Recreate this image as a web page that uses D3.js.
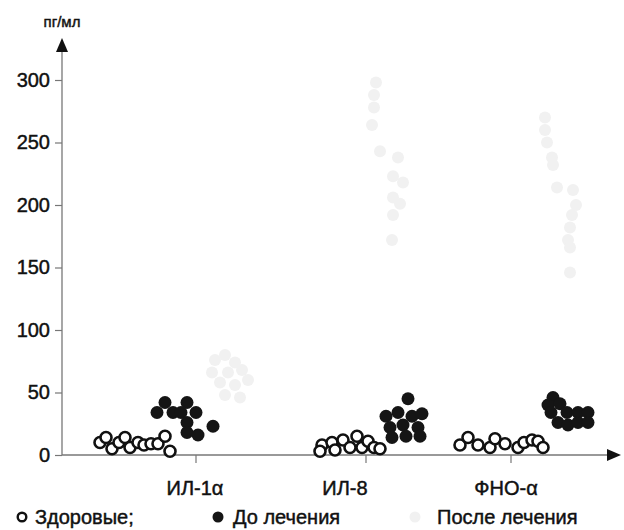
<!DOCTYPE html>
<html>
<head>
<meta charset="utf-8">
<script src="https://cdn.jsdelivr.net/npm/d3@7"></script>
<style>
  body { margin: 0; background: #fff; }
  text { font-family: "Liberation Sans", Arial, sans-serif; fill: #111; stroke: #111; stroke-width: 0.45px; }
</style>
</head>
<body>
<script>
// chart size
var w = 624;
var h = 530;

// categories and where they sit on the x scale
var categories = ["ИЛ-1α", "ИЛ-8", "ФНО-α"];
var categoryTicks = [26.8, 60.8, 89.8];
var labelPos = [26.6, 56.6, 88.8];

var yTicks = [0, 50, 100, 150, 200, 250, 300];
var yTitle = "пг/мл";

// [x position, value pg/ml]
var healthy = [
  [7.6, 10], [8.8, 14], [10, 5], [11.4, 10], [12.6, 14], [13.6, 6],
  [15.2, 10], [16.4, 8], [17.8, 9], [19.2, 9], [20.6, 15], [21.6, 3],
  [52, 8], [51.6, 3], [54, 10], [54.6, 4], [56.2, 12], [57.6, 6],
  [59, 15], [60, 6], [61.2, 11], [62.4, 6], [63.6, 5],
  [79.6, 8], [81.2, 14], [83.2, 8], [85.6, 6], [86.6, 13], [88.6, 9],
  [91.2, 6], [92.4, 10], [94, 12], [95.2, 11], [96.2, 6]
];

var before = [
  [19, 34], [20.6, 42], [22.2, 34], [25, 42], [23.8, 34], [26.8, 34],
  [25, 26], [25, 18], [27.2, 16], [30.2, 23],
  [69.2, 45], [64.8, 31], [67.2, 34], [70, 31], [72, 33], [65.6, 22],
  [68.2, 24], [71.2, 22], [66, 14], [68.8, 15], [71.6, 15],
  [98.2, 46], [97.2, 40], [99.6, 41], [97.8, 34], [101, 34], [103.2, 34],
  [105.2, 34], [99.2, 26], [101.2, 24], [103.2, 26], [105.2, 26]
];

var after = [
  [30.6, 76], [32.6, 80], [34.6, 74], [30, 66], [33.2, 66], [36, 68],
  [31.6, 58], [34.6, 56], [37.2, 60], [32.6, 48], [35.6, 46],
  [62.8, 298], [62.4, 288], [62.4, 278], [62, 264], [63.6, 243], [67.2, 238],
  [66.2, 223], [68.2, 218], [66.2, 206], [67.6, 201], [66.2, 192], [66, 172],
  [96.6, 270], [96.6, 260], [97, 250], [98, 238], [98.2, 232], [99, 214],
  [102.2, 212], [102.8, 200], [102, 192], [101.6, 182], [101.2, 172],
  [101.6, 166], [101.6, 146]
];

var legendLabels = ["Здоровые;", "До лечения", "После лечения"];

var svg = d3.select("body")
  .append("svg")
  .attr("width", w)
  .attr("height", h);

var x = d3.scaleLinear().domain([0, 110]).range([62, 612]);
var y = d3.scaleLinear().domain([0, 300]).range([455, 80]);

var axisColor = "#777";
var faint = "#f1f1f1";
var fs = "20px";

// y axis
var yAxis = d3.axisLeft(y).tickValues(yTicks).tickSize(7).tickPadding(5);
var gy = svg.append("g").attr("transform", "translate(62,0)").call(yAxis);
gy.select(".domain").remove();
gy.selectAll(".tick line").attr("stroke", axisColor).attr("stroke-width", 1.2);
gy.selectAll(".tick text")
  .style("font-family", "'Liberation Sans', Arial, sans-serif")
  .style("font-size", fs)
  .attr("fill", "#111");

svg.append("line")
  .attr("x1", 62).attr("x2", 62)
  .attr("y1", y(0)).attr("y2", 48)
  .attr("stroke", axisColor).attr("stroke-width", 1.3);
svg.append("path")
  .attr("d", "M62,38 L56,52 L68,52 Z")
  .attr("fill", "#111");

svg.append("text")
  .attr("x", 62).attr("y", 27)
  .attr("text-anchor", "middle")
  .style("font-size", "15px")
  .text(yTitle);

// x axis
svg.append("line")
  .attr("x1", 62).attr("x2", 612)
  .attr("y1", y(0)).attr("y2", y(0))
  .attr("stroke", axisColor).attr("stroke-width", 1.3);
svg.append("path")
  .attr("d", "M621,455 L607,449 L607,461 Z")
  .attr("fill", "#111");

svg.selectAll(".xtick")
  .data(categoryTicks)
  .enter()
  .append("line")
  .attr("x1", function(d) { return x(d); })
  .attr("x2", function(d) { return x(d); })
  .attr("y1", y(0))
  .attr("y2", y(0) + 8)
  .attr("stroke", axisColor).attr("stroke-width", 1.2);

svg.selectAll(".xlabel")
  .data(categories)
  .enter()
  .append("text")
  .attr("x", function(d, i) { return x(labelPos[i]); })
  .attr("y", 495)
  .attr("text-anchor", "middle")
  .style("font-size", fs)
  .text(function(d) { return d; });

// points
var r = 6.5;

svg.append("g").selectAll("circle")
  .data(after)
  .enter()
  .append("circle")
  .attr("cx", function(d) { return x(d[0]); })
  .attr("cy", function(d) { return y(d[1]); })
  .attr("r", r - 0.5)
  .attr("fill", faint);

svg.append("g").selectAll("circle")
  .data(healthy)
  .enter()
  .append("circle")
  .attr("cx", function(d) { return x(d[0]); })
  .attr("cy", function(d) { return y(d[1]); })
  .attr("r", r - 1)
  .attr("fill", "#fff")
  .attr("stroke", "#111")
  .attr("stroke-width", 2.6);

svg.append("g").selectAll("circle")
  .data(before)
  .enter()
  .append("circle")
  .attr("cx", function(d) { return x(d[0]); })
  .attr("cy", function(d) { return y(d[1]); })
  .attr("r", r)
  .attr("fill", "#151515");

// legend
var legendX = [22, 218, 415];
var legendTextX = [35, 233, 437];
var legendStyle = [
  { fill: "#fff", stroke: "#111", sw: 2.4, r: 4.3 },
  { fill: "#151515", stroke: "none", sw: 0, r: 5.5 },
  { fill: faint, stroke: "none", sw: 0, r: 5.5 }
];

var lg = svg.append("g");
lg.selectAll("circle")
  .data(legendLabels)
  .enter()
  .append("circle")
  .attr("cx", function(d, i) { return legendX[i]; })
  .attr("cy", 517)
  .attr("r", function(d, i) { return legendStyle[i].r; })
  .attr("fill", function(d, i) { return legendStyle[i].fill; })
  .attr("stroke", function(d, i) { return legendStyle[i].stroke; })
  .attr("stroke-width", function(d, i) { return legendStyle[i].sw; });

lg.selectAll("text")
  .data(legendLabels)
  .enter()
  .append("text")
  .attr("x", function(d, i) { return legendTextX[i]; })
  .attr("y", 524)
  .style("font-size", fs)
  .text(function(d) { return d; });
</script>
</body>
</html>
